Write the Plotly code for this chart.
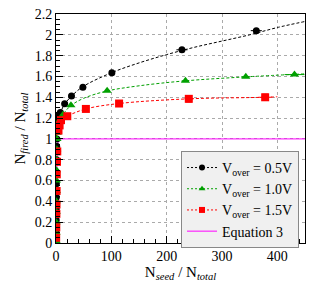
import plotly.graph_objects as go

# Data
x_05 = [0.2, 0.3, 0.4, 0.5, 0.6, 0.7, 0.8, 1.0, 1.2, 1.5, 1.8, 2.2, 3.5, 7.8, 15.6, 28, 48.6, 101, 227.6, 362]
y_05 = [0.02, 0.12, 0.22, 0.33, 0.44, 0.57, 0.68, 0.80, 0.93, 1.00, 1.08, 1.19, 1.22, 1.253, 1.337, 1.413, 1.497, 1.635, 1.856, 2.04]
ex_05 = [0]*18 + [10, 10]

x_10 = [0.2, 0.3, 0.4, 0.5, 0.6, 0.7, 0.8, 1.0, 1.2, 1.5, 1.8, 2.2, 3.0, 5.0, 12.6, 27, 92.4, 234, 343, 431]
y_10 = [0.02, 0.10, 0.20, 0.30, 0.40, 0.50, 0.60, 0.70, 0.80, 0.90, 1.00, 1.06, 1.12, 1.17, 1.231, 1.324, 1.462, 1.558, 1.596, 1.618]
ex_10 = [0]*17 + [6, 8, 18]

x_15 = [0.3, 0.5, 0.7, 0.9, 1.1, 1.4, 1.8, 2.3, 4.5, 6.5, 9.0, 20.4, 54, 114, 240, 378]
y_15 = [0.05, 0.15, 0.28, 0.37, 0.50, 0.66, 0.78, 0.88, 1.08, 1.13, 1.18, 1.218, 1.288, 1.34, 1.385, 1.40]
ey_15 = [0.01]*11 + [0.02, 0.025, 0.025, 0.03, 0.03]
ex_15 = [0]*14 + [8, 12]

fit_x_05 = [0.5, 2, 8, 15, 28, 48, 100, 150, 200, 250, 300, 350, 400, 450]
fit_y_05 = [1.05, 1.15, 1.25, 1.33, 1.41, 1.50, 1.635, 1.73, 1.81, 1.88, 1.94, 2.00, 2.07, 2.128]
fit_x_10 = [0.5, 2, 12, 27, 50, 92, 150, 234, 343, 450]
fit_y_10 = [1.02, 1.12, 1.23, 1.32, 1.39, 1.46, 1.51, 1.558, 1.596, 1.625]
fit_x_15 = [0.5, 2, 9, 20, 54, 114, 240, 378, 400]
fit_y_15 = [1.03, 1.12, 1.18, 1.218, 1.288, 1.34, 1.385, 1.40, 1.405]

eq3_x = [0, 0.5, 1, 2, 3, 5, 450]
eq3_y = [0, 0.39, 0.63, 0.86, 0.95, 1.0, 1.0]

x_ticks = [0, 100, 200, 300, 400]
y_ticks = [0, 0.2, 0.4, 0.6, 0.8, 1, 1.2, 1.4, 1.6, 1.8, 2, 2.2]
y_tick_text = ["0", "0.2", "0.4", "0.6", "0.8", "1", "1.2", "1.4", "1.6", "1.8", "2", "2.2"]

names = ["V<sub>over</sub> = 0.5V", "V<sub>over</sub> = 1.0V", "V<sub>over</sub> = 1.5V", "Equation 3"]

BLACK = "#000000"
GREEN = "#00a000"
RED = "#ff0000"
MAG = "#ff00ff"
FONT = "Liberation Serif"

fig = go.Figure()

# fit lines
for fx, fy, c in [(fit_x_05, fit_y_05, BLACK), (fit_x_10, fit_y_10, GREEN), (fit_x_15, fit_y_15, RED)]:
    fig.add_trace(go.Scatter(x=fx, y=fy, mode="lines", line=dict(color=c, width=1, dash="3px,2px", shape="spline"),
                             showlegend=False, hoverinfo="skip"))

fig.add_trace(go.Scatter(x=eq3_x, y=eq3_y, mode="lines", showlegend=False,
                         line=dict(color=MAG, width=1)))

fig.add_trace(go.Scatter(x=x_05, y=y_05, mode="markers", showlegend=False,
                         marker=dict(symbol="circle", size=7, color=BLACK),
                         error_x=dict(type="data", array=ex_05, color=BLACK, width=0, thickness=1)))
fig.add_trace(go.Scatter(x=x_10, y=y_10, mode="markers", showlegend=False,
                         marker=dict(symbol="triangle-up", size=8, color=GREEN),
                         error_x=dict(type="data", array=ex_10, color=GREEN, width=0, thickness=1)))
fig.add_trace(go.Scatter(x=x_15, y=y_15, mode="markers", showlegend=False,
                         marker=dict(symbol="square", size=8, color=RED),
                         error_x=dict(type="data", array=ex_15, color=RED, width=0, thickness=1),
                         error_y=dict(type="data", array=ey_15, color=RED, width=3, thickness=1)))

# legend entries
leg_styles = [("circle", BLACK, 6), ("triangle-up", GREEN, 6), ("square", RED, 6)]
for nm, (sym, c, s) in zip(names[:3], leg_styles):
    fig.add_trace(go.Scatter(x=[None], y=[None], mode="lines+markers", name=nm,
                             line=dict(color=c, width=1, dash="2px,2px"),
                             marker=dict(symbol=sym, size=s, color=c)))
fig.add_trace(go.Scatter(x=[None], y=[None], mode="lines", name=names[3],
                         line=dict(color=MAG, width=1)))

axis_common = dict(showline=True, linecolor="black", linewidth=1, mirror=True,
                   ticks="inside", ticklen=7, tickcolor="black", automargin=False,
                   ticklabeloverflow="allow",
                   showgrid=True, gridcolor="#aaaaaa", griddash="dot", gridwidth=1,
                   zeroline=False, tickfont=dict(family=FONT, size=14, color="black"))

# page body has an 8px default margin, so the figure is sized/offset to compensate
fig.update_layout(
    width=324, height=282,
    margin=dict(l=48, r=27, t=6, b=47),
    paper_bgcolor="white", plot_bgcolor="white",
    font=dict(family=FONT, color="black"),
    xaxis=dict(range=[0, 450], tickvals=x_ticks,
               minor=dict(ticks="inside", ticklen=4, dtick=20, tick0=0, tickcolor="black", showgrid=False),
               title=dict(text="N<sub><i>seed</i></sub> / N<sub><i>total</i></sub>", font=dict(family=FONT, size=15), standoff=2),
               **axis_common),
    yaxis=dict(range=[0, 2.2], tickvals=y_ticks, ticktext=y_tick_text,
               minor=dict(ticks="inside", ticklen=4, dtick=0.05, tick0=0, tickcolor="black", showgrid=False),
               title=dict(text="N<sub><i>fired</i></sub> / N<sub><i>total</i></sub>", font=dict(family=FONT, size=15), standoff=5),
               **axis_common),
    legend=dict(x=0.976, y=0.402, xanchor="right", yanchor="top",
                bgcolor="#f0f0f0", bordercolor="#888888", borderwidth=1,
                font=dict(family=FONT, size=14), itemwidth=30, tracegroupgap=0),
)

fig.write_html("out.html")
